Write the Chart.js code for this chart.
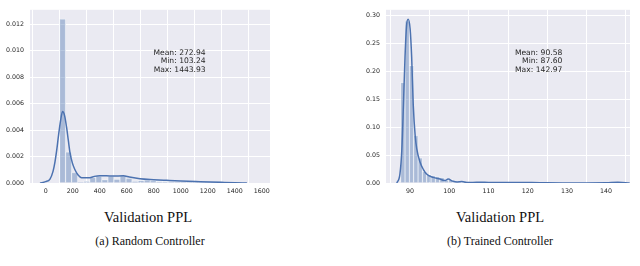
<!DOCTYPE html>
<html>
<head>
<meta charset="utf-8">
<script src="https://cdn.jsdelivr.net/npm/chart.js@4.4.1/dist/chart.umd.min.js"></script>
<style>
  html, body { margin: 0; padding: 0; background: #fff; }
  body { width: 640px; height: 266px; position: relative; overflow: hidden; }
  .box { position: absolute; top: 0; width: 320px; height: 200px; }
  .cap { position: absolute; font-family: "Liberation Serif", serif; color: #111; white-space: nowrap; transform: translateX(-50%); }
  .xl { top: 209px; font-size: 14.5px; }
  .sub { top: 234px; font-size: 12px; }
</style>
</head>
<body>
<div class="box" style="left:0"><canvas id="c1" width="320" height="200"></canvas></div>
<div class="box" style="left:320px"><canvas id="c2" width="320" height="200"></canvas></div>
<div class="cap xl" style="left:148px">Validation PPL</div>
<div class="cap sub" style="left:150px">(a) Random Controller</div>
<div class="cap xl" style="left:500px">Validation PPL</div>
<div class="cap sub" style="left:500px">(b) Trained Controller</div>

<script>
// (a) random controller: 30 bins from min to max
const randMin = 103.24, randMax = 1443.93;
const randHist = [0.0124, 0.00234, 0.00079, 0.00007, 0.00014, 0.00043, 0.00052, 0.00024, 0.00052, 0.00029,
  0.00057, 0.00036, 0.00014, 0.00020, 0.00022, 0.00018, 0.00012, 0.00012, 0.00010, 0.00008,
  0.00008, 0.00006, 0.00005, 0.00004, 0.00003, 0.00002, 0.00002, 0.00001, 0.00001, 0.00001];
const randKdeX = [-42, 0, 32, 55, 69, 82, 94, 110, 125, 140, 155, 168, 180, 198, 217, 240, 266, 300, 327, 360, 402, 450, 500, 575, 620, 698, 800, 896, 1000, 1143, 1300, 1400, 1490];
const randKdeY = [0, 0.0001, 0.0003, 0.0009, 0.0016, 0.0025, 0.0035, 0.0047, 0.0054, 0.0051, 0.0042, 0.0032, 0.0023, 0.0015, 0.0010, 0.0006, 0.0004, 0.0004, 0.0004, 0.0005, 0.00055, 0.00055, 0.00052, 0.00055, 0.00045, 0.00032, 0.00025, 0.0002, 0.00015, 0.0001, 0.00005, 0.00002, 0];
const randXTicks = [0, 200, 400, 600, 800, 1000, 1200, 1400, 1600];
const randYTicks = [0, 0.002, 0.004, 0.006, 0.008, 0.010, 0.012];
const randStats = ['Mean: 272.94', 'Min: 103.24', 'Max: 1443.93'];

// (b) trained controller: 50 bins from min to max
const trainMin = 87.60, trainMax = 142.97;
const trainHist = [0.18, 0.29, 0.21, 0.085, 0.045, 0.02, 0.015, 0.013, 0.011, 0.010,
  0.005, 0.006, 0.002, 0.002, 0.001, 0.002, 0.001, 0.001, 0.002, 0.001,
  0.001, 0.001, 0.001, 0.001, 0.0005, 0.001, 0.001, 0.0005, 0.0005, 0.001,
  0.0005, 0, 0, 0, 0, 0, 0, 0, 0, 0,
  0, 0, 0, 0, 0, 0, 0, 0, 0, 0.001];
const trainKdeX = [86.6, 87.4, 87.9, 88.3, 88.7, 89.1, 89.5, 90.0, 90.4, 90.8, 91.3, 91.7, 92.5, 93.4, 94.2, 95.9, 97.6, 98.9, 99.7, 101.0, 102.0, 103.2, 104.5, 106, 108, 110, 113, 117, 121, 125, 130, 135, 140, 143, 146];
const trainKdeY = [0, 0.016, 0.061, 0.14, 0.225, 0.282, 0.293, 0.276, 0.225, 0.14, 0.084, 0.061, 0.038, 0.024, 0.016, 0.010, 0.007, 0.0045, 0.007, 0.003, 0.002, 0.0025, 0.001, 0.001, 0.0015, 0.001, 0.001, 0.0008, 0.0008, 0.0003, 0.0002, 0.0001, 0.0003, 0.0012, 0];
const trainXTicks = [90, 100, 110, 120, 130, 140];
const trainYTicks = [0, 0.05, 0.10, 0.15, 0.20, 0.25, 0.30];
const trainStats = ['Mean: 90.58', 'Min: 87.60', 'Max: 142.97'];

const BLUE = '#4C72B0';

const panelBg = {
  id: 'panelBg',
  beforeDraw(chart) {
    const a = chart.chartArea, c = chart.ctx;
    c.save(); c.fillStyle = '#EAEAF2';
    c.fillRect(a.left, a.top, a.right - a.left, a.bottom - a.top);
    c.restore();
  }
};

const statsText = {
  id: 'statsText',
  afterDraw(chart, args, opts) {
    const c = chart.ctx;
    c.save();
    c.font = '7.6px "DejaVu Sans"';
    c.fillStyle = '#262626';
    c.textAlign = 'right';
    c.textBaseline = 'middle';
    opts.lines.forEach((t, i) => c.fillText(t, opts.x, opts.y + i * 8.7));
    c.restore();
  }
};

function histPoints(min, max, h) {
  const w = (max - min) / h.length;
  return h.map((v, i) => ({x: min + (i + 0.5) * w, y: v}));
}

function makeChart(id, o) {
  new Chart(document.getElementById(id), {
    type: 'bar',
    data: {datasets: [
      {type: 'line', data: o.kx.map((x, i) => ({x, y: o.ky[i]})), borderColor: BLUE, borderWidth: 1.5,
       pointRadius: 0, cubicInterpolationMode: 'monotone', fill: false, order: 0},
      {data: histPoints(o.min, o.max, o.hist), backgroundColor: 'rgba(76,114,176,0.4)',
       borderColor: 'rgba(255,255,255,0.85)', borderWidth: 0.6, barPercentage: 1, categoryPercentage: 1, order: 1}
    ]},
    options: {
      responsive: false, animation: false, events: [],
      layout: {padding: {top: 0, right: o.padRight, left: 0, bottom: 0}},
      plugins: {legend: {display: false}, tooltip: {enabled: false},
        statsText: {lines: o.stats, x: o.sx, y: 52.7}},
      scales: {
        x: {type: 'linear', min: o.xmin, max: o.xmax, offset: false,
          afterFit: s => { s.height = 17; },
          afterBuildTicks: s => { s.ticks = o.xticks.map(v => ({value: v})); },
          grid: {color: '#fff', lineWidth: 1, drawTicks: false}, border: {display: false},
          ticks: {padding: 5, color: '#262626', font: {family: 'DejaVu Sans', size: 6.3}, maxRotation: 0,
            callback: v => String(v)}},
        y: {min: 0, max: o.ymax,
          afterFit: s => { s.width = o.yw; },
          afterBuildTicks: s => { s.ticks = o.yticks.map(v => ({value: v})); },
          grid: {color: '#fff', lineWidth: 1, drawTicks: false}, border: {display: false},
          ticks: {padding: 6, color: '#262626', font: {family: 'DejaVu Sans', size: 6.3},
            callback: v => v.toFixed(o.dec)}}
      }
    },
    plugins: [panelBg, statsText]
  });
}

makeChart('c1', {min: randMin, max: randMax, hist: randHist, kx: randKdeX, ky: randKdeY,
  xticks: randXTicks, yticks: randYTicks, stats: randStats, xmin: -116, xmax: 1661, ymax: 0.0131,
  yw: 30, padRight: 50, dec: 3, sx: 205.7});
makeChart('c2', {min: trainMin, max: trainMax, hist: trainHist, kx: trainKdeX, ky: trainKdeY,
  xticks: trainXTicks, yticks: trainYTicks, stats: trainStats, xmin: 83.85, xmax: 146.1, ymax: 0.31,
  yw: 66, padRight: 10, dec: 2, sx: 242.3});
</script>
</body>
</html>
